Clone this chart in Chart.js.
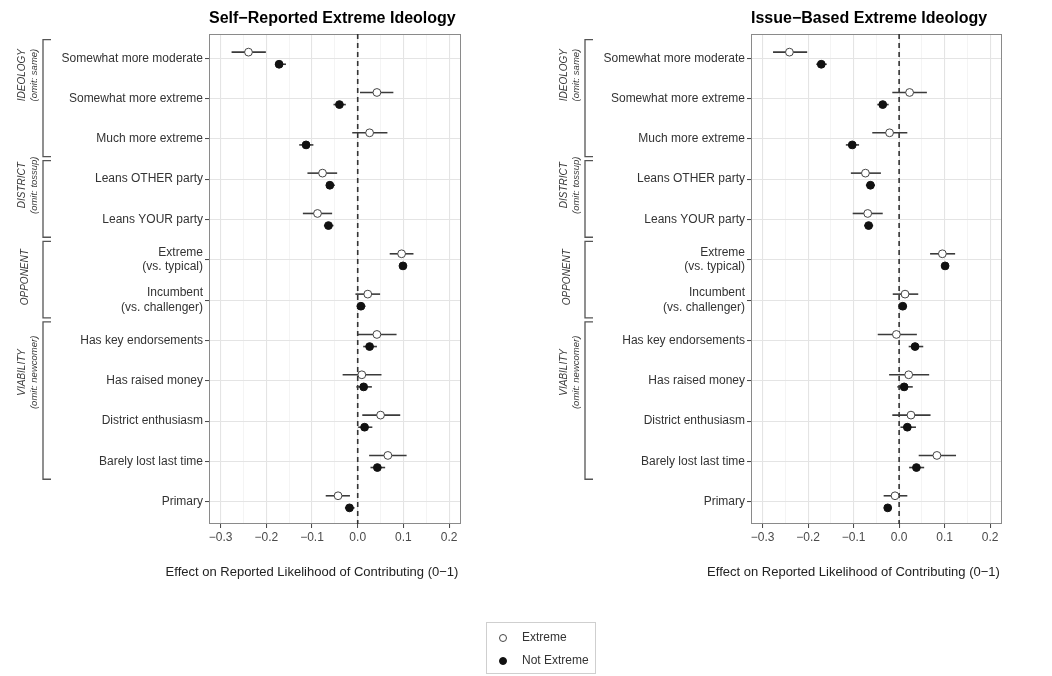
<!DOCTYPE html>
<html>
<head>
<meta charset="utf-8">
<script src="https://cdn.jsdelivr.net/npm/chart.js@4/dist/chart.umd.min.js"></script>
<style>
  body { margin: 0; background: #fff; }
  #wrap { position: relative; width: 1052px; height: 676px; }
  canvas { position: absolute; left: 0; top: 0; }
</style>
</head>
<body>
<div id="wrap">
  <canvas id="selfChart" width="1052" height="676"></canvas>
  <canvas id="issueChart" width="1052" height="676"></canvas>
</div>
<script>
const rows = [
  "Somewhat more moderate", "Somewhat more extreme", "Much more extreme",
  "Leans OTHER party", "Leans YOUR party",
  ["Extreme", "(vs. typical)"], ["Incumbent", "(vs. challenger)"],
  "Has key endorsements", "Has raised money", "District enthusiasm", "Barely lost last time",
  "Primary"
];

const groups = [
  { name: "IDEOLOGY", note: "(omit: same)", first: 0, last: 2 },
  { name: "DISTRICT", note: "(omit: tossup)", first: 3, last: 4 },
  { name: "OPPONENT", note: null, first: 5, last: 6 },
  { name: "VIABILITY", note: "(omit: newcomer)", first: 7, last: 10 }
];

const seriesNames = ["Extreme", "Not Extreme"];
const xTickValues = [-0.3, -0.2, -0.1, 0.0, 0.1, 0.2];

// Self-reported extreme ideology
const selfExt   = [-0.239, 0.042, 0.026, -0.077, -0.088, 0.096, 0.022, 0.042, 0.009, 0.050, 0.066, -0.043];
const selfExtLo = [-0.276, 0.005, -0.012, -0.110, -0.120, 0.070, -0.005, 0.000, -0.033, 0.010, 0.025, -0.070];
const selfExtHi = [-0.201, 0.078, 0.065, -0.045, -0.056, 0.122, 0.049, 0.085, 0.052, 0.093, 0.107, -0.017];
const selfNot   = [-0.172, -0.040, -0.113, -0.061, -0.064, 0.099, 0.007, 0.026, 0.013, 0.015, 0.043, -0.018];
const selfNotLo = [-0.181, -0.053, -0.128, -0.069, -0.074, 0.092, -0.002, 0.012, -0.003, 0.001, 0.028, -0.028];
const selfNotHi = [-0.157, -0.026, -0.097, -0.050, -0.053, 0.107, 0.017, 0.042, 0.031, 0.032, 0.060, -0.007];

// Issue-based extreme ideology
const issueExt   = [-0.241, 0.023, -0.021, -0.074, -0.069, 0.095, 0.013, -0.006, 0.021, 0.026, 0.083, -0.009];
const issueExtLo = [-0.277, -0.015, -0.059, -0.106, -0.102, 0.068, -0.014, -0.047, -0.022, -0.015, 0.043, -0.034];
const issueExtHi = [-0.202, 0.061, 0.018, -0.040, -0.036, 0.123, 0.042, 0.039, 0.066, 0.069, 0.125, 0.018];
const issueNot   = [-0.171, -0.036, -0.103, -0.063, -0.067, 0.101, 0.008, 0.035, 0.011, 0.018, 0.038, -0.025];
const issueNotLo = [-0.182, -0.048, -0.117, -0.073, -0.077, 0.093, -0.001, 0.021, -0.004, 0.003, 0.022, -0.033];
const issueNotHi = [-0.159, -0.023, -0.088, -0.053, -0.057, 0.109, 0.017, 0.053, 0.030, 0.037, 0.055, -0.017];

const FONT = "'Liberation Sans', Arial, Helvetica, sans-serif";
const dodge = 0.15;
// where the rotated group labels sit (in row units)
const groupLabelAt = [0.42, 3.15, 5.43, 7.79];

const isMajor = v => Math.round(v * 100) % 10 === 0;
const fmt = v => v.toFixed(1).replace("-", "\u2212");

const panelDecor = {
  id: "panelDecor",
  beforeDatasetsDraw(chart, args, o) {
    const { ctx, chartArea: a, scales: { x, y } } = chart;
    ctx.save();
    // panel border
    ctx.strokeStyle = "#8a8a8a";
    ctx.lineWidth = 1;
    ctx.strokeRect(a.left + 0.5, a.top + 0.5, a.width - 1, a.height - 1);
    // zero line
    ctx.strokeStyle = "#333";
    ctx.lineWidth = 1.6;
    ctx.setLineDash([5, 4]);
    const x0 = x.getPixelForValue(0);
    ctx.beginPath();
    ctx.moveTo(x0, a.top);
    ctx.lineTo(x0, a.bottom);
    ctx.stroke();
    ctx.setLineDash([]);
    // intervals
    ctx.strokeStyle = "#3a3a3a";
    ctx.lineWidth = 1.6;
    o.ci.forEach(s => {
      s.lo.forEach((lo, i) => {
        const py = y.getPixelForValue(i + s.off);
        ctx.beginPath();
        ctx.moveTo(x.getPixelForValue(lo), py);
        ctx.lineTo(x.getPixelForValue(s.hi[i]), py);
        ctx.stroke();
      });
    });
    ctx.restore();
  },
  afterDraw(chart, args, o) {
    const { ctx, chartArea: a, scales: { y } } = chart;
    ctx.save();
    // title
    ctx.fillStyle = "#000";
    ctx.font = "bold 16px " + FONT;
    ctx.textAlign = "left";
    ctx.textBaseline = "alphabetic";
    ctx.fillText(o.title, a.left, 23);
    // x title
    ctx.fillStyle = "#222";
    ctx.font = "13px " + FONT;
    ctx.textAlign = "center";
    ctx.fillText("Effect on Reported Likelihood of Contributing (0\u22121)", a.left + a.width / 2 - 23, 576);
    // brackets + group labels
    const bx = a.left - 166;
    ctx.strokeStyle = "#555";
    ctx.lineWidth = 1.3;
    groups.forEach((g, k) => {
      const t = y.getPixelForValue(g.first - 0.46);
      const b = y.getPixelForValue(g.last + 0.44);
      ctx.beginPath();
      ctx.moveTo(bx + 8, t);
      ctx.lineTo(bx, t);
      ctx.lineTo(bx, b);
      ctx.lineTo(bx + 8, b);
      ctx.stroke();
      const cy = y.getPixelForValue(groupLabelAt[k]);
      ctx.save();
      ctx.translate(0, cy);
      ctx.rotate(-Math.PI / 2);
      ctx.fillStyle = "#3a3a3a";
      ctx.textAlign = "center";
      ctx.textBaseline = "middle";
      ctx.font = "italic 10px " + FONT;
      ctx.fillText(g.name, 0, g.note ? a.left - 186.5 : a.left - 184);
      if (g.note) {
        ctx.font = "italic 9.5px " + FONT;
        ctx.fillText(g.note, 0, a.left - 175);
      }
      ctx.restore();
    });
    // legend
    if (o.legend) {
      const ds = chart.data.datasets;
      ctx.strokeStyle = "#cfcfcf";
      ctx.lineWidth = 1;
      ctx.strokeRect(486.5, 622.5, 109, 51);
      ds.forEach((d, i) => {
        const ly = 638 + i * 23;
        ctx.beginPath();
        ctx.arc(503, ly, 3.5, 0, Math.PI * 2);
        ctx.fillStyle = d.backgroundColor;
        ctx.fill();
        ctx.strokeStyle = d.borderColor;
        ctx.lineWidth = d.borderWidth;
        ctx.stroke();
        ctx.fillStyle = "#333";
        ctx.font = "12px " + FONT;
        ctx.textAlign = "left";
        ctx.textBaseline = "middle";
        ctx.fillText(d.label, 522, ly);
      });
    }
    ctx.restore();
  }
};

function makePanel(id, title, ext, extLo, extHi, not, notLo, notHi, padLeft, padRight, legend) {
  return new Chart(document.getElementById(id), {
    type: "scatter",
    data: {
      datasets: [
        {
          label: seriesNames[0],
          data: ext.map((v, i) => ({ x: v, y: i - dodge })),
          backgroundColor: "#ffffff",
          borderColor: "#444444",
          borderWidth: 1,
          pointRadius: 3.9
        },
        {
          label: seriesNames[1],
          data: not.map((v, i) => ({ x: v, y: i + dodge })),
          backgroundColor: "#111111",
          borderColor: "#111111",
          borderWidth: 1,
          pointRadius: 3.9
        }
      ]
    },
    options: {
      responsive: false,
      animation: false,
      events: [],
      layout: { padding: { left: padLeft, right: padRight, top: 34, bottom: 122 } },
      plugins: {
        legend: { display: false },
        tooltip: { enabled: false },
        panelDecor: {
          title: title,
          legend: legend,
          ci: [
            { lo: extLo, hi: extHi, off: -dodge },
            { lo: notLo, hi: notHi, off: dodge }
          ]
        }
      },
      scales: {
        x: {
          type: "linear",
          min: -0.3254,
          max: 0.226,
          afterFit: s => { s.height = 30; },
          border: { display: false },
          grid: {
            color: c => isMajor(c.tick.value) ? "#e4e4e4" : "#f1f1f1",
            lineWidth: c => isMajor(c.tick.value) ? 1.1 : 0.8,
            tickColor: c => isMajor(c.tick.value) ? "#444" : "rgba(0,0,0,0)",
            tickWidth: 1,
            tickLength: 4
          },
          ticks: {
            stepSize: 0.05,
            includeBounds: false,
            autoSkip: false,
            maxRotation: 0,
            padding: 2,
            color: "#4a4a4a",
            font: { family: FONT, size: 12 },
            callback: v => xTickValues.some(t => Math.abs(t - v) < 1e-9) ? fmt(v) : ""
          }
        },
        y: {
          type: "linear",
          reverse: true,
          min: -0.6,
          max: 11.55,
          afterFit: s => { s.width = 209; },
          border: { display: false },
          grid: {
            color: "#e4e4e4",
            lineWidth: 1.1,
            tickColor: "#444",
            tickWidth: 1,
            tickLength: 4
          },
          ticks: {
            stepSize: 1,
            includeBounds: false,
            autoSkip: false,
            padding: 2,
            color: "#333",
            font: { family: FONT, size: 12, lineHeight: 1.2 },
            callback: v => rows[v]
          }
        }
      }
    },
    plugins: [panelDecor]
  });
}

makePanel("selfChart", "Self\u2212Reported Extreme Ideology",
  selfExt, selfExtLo, selfExtHi, selfNot, selfNotLo, selfNotHi, 0, 591, false);
makePanel("issueChart", "Issue\u2212Based Extreme Ideology",
  issueExt, issueExtLo, issueExtHi, issueNot, issueNotLo, issueNotHi, 542, 50, true);
</script>
</body>
</html>
